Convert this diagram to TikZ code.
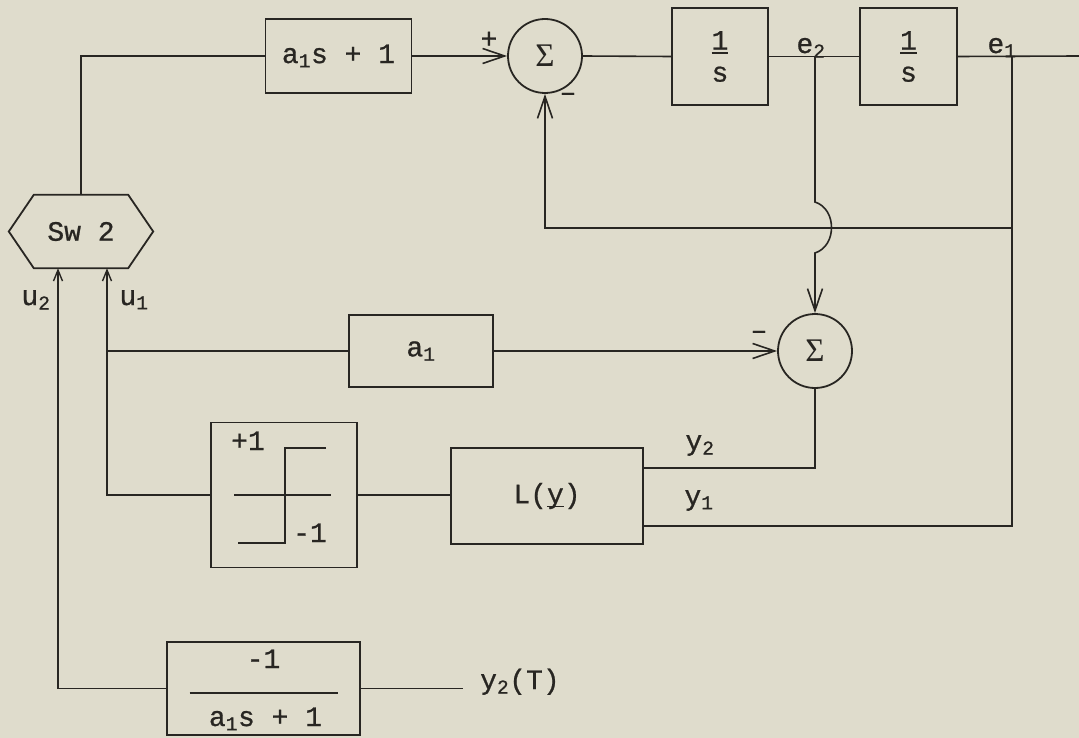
\documentclass[tikz,border=0pt]{standalone}
\usepackage{fontspec}
\setmainfont{Liberation Mono}[UprightFeatures={FakeBold=0.8}]
\newfontfamily\sigfont{Liberation Serif}
\usetikzlibrary{arrows.meta,calc}
\definecolor{bg}{RGB}{223,220,204}
\definecolor{ink}{RGB}{40,38,34}
\newcommand\ubar[1]{\setbox0\hbox{#1}\rlap{\raisebox{-4pt}{\rule{\wd0}{1.6pt}}}\box0}
\begin{document}
\begin{tikzpicture}[x=1pt,y=-1pt,
  every node/.style={font=\fontsize{28}{32}\selectfont, text=ink},
  blk/.style={draw=ink, line width=1.8pt, inner sep=0pt},
  sumc/.style={draw=ink, line width=1.8pt, circle, minimum size=74pt, inner sep=0pt, font=\sigfont\fontsize{33}{36}\selectfont},
  outl/.style={draw=ink, line width=1.8pt},
  wire/.style={draw=ink, line width=1.6pt},
  arr/.style={wire, -{Straight Barb[length=22pt,width=15pt,line width=1.6pt]}},
  sarr/.style={wire, -{Straight Barb[length=11pt,width=9pt,line width=1.4pt]}},
  lbl/.style={inner sep=0pt},
  sgn/.style={inner sep=0pt, font=\fontsize{28}{32}\selectfont}
]
\fill[bg] (0,0) rectangle (1079,738);
\useasboundingbox (0,0) rectangle (1079,738);

% switch
\node[minimum width=94pt, minimum height=73pt, inner sep=0pt] (sw) at (81,231.5) {Sw 2};
\draw[outl] (sw.north west) -- ($(sw.west)+(-25,0)$) -- (sw.south west) -- (sw.south east) -- ($(sw.east)+(25,0)$) -- (sw.north east) -- cycle;

% top row
\node[blk, minimum width=146pt, minimum height=74pt] (b1) at (338.5,56) {a\textsubscript{1}s + 1};
\node[sumc] (s1) at (545,56) {Σ};
\node[blk, minimum width=96pt, minimum height=97pt, align=center] (i1) at (720,56.5) {\ubar{1}\\s};
\node[blk, minimum width=97pt, minimum height=97pt, align=center] (i2) at (908.5,56.5) {\ubar{1}\\s};
\coordinate (e2j) at (815,56);
\coordinate (e1j) at (1012,56);
\coordinate (out) at (1079,56);
\coordinate (fbr) at (1012,228);
\coordinate (hop1) at (815,202);
\coordinate (hop2) at (815,253);

% middle
\node[blk, minimum width=144pt, minimum height=72pt] (a1) at (421,351) {a\textsubscript{1}};
\node[sumc] (s2) at (815,351) {Σ};

\node[blk, minimum width=146pt, minimum height=145pt] (rl) at (284,495) {};
\node[blk, minimum width=192pt, minimum height=96pt] (L) at (547,496) {L(\ubar{y})};
\coordinate (y2p) at ($(L.north east)+(0,21)$);
\coordinate (y1p) at ($(L.south east)+(0,-19)$);

% bottom
\node[blk, minimum width=193pt, minimum height=93pt] (fb) at (263.5,688.5) {};
\coordinate (yT) at (463,688.5);

\coordinate (u1t) at ($(sw.south)+(26,0)$);
\coordinate (u2t) at ($(sw.south)+(-23,0)$);

% relay internals
\draw[wire] ($(rl.center)+(-50,0)$) -- ($(rl.center)+(47,0)$);
\draw[wire] ($(rl.center)+(42,-47)$) -- ($(rl.center)+(1,-47)$) -- ($(rl.center)+(1,48)$) -- ($(rl.center)+(-46,48)$);
\node[lbl, anchor=base] (p1) at ($(rl.center)+(-36,-45)$) {+1};
\node[lbl, anchor=base] (m1) at ($(rl.center)+(26,47)$) {-1};

% bottom box fraction
\draw[wire] ($(fb.center)+(-74,4.5)$) -- ($(fb.center)+(74,4.5)$);
\node[lbl, anchor=base] (fbn) at ($(fb.center)+(0,-20.5)$) {-1};
\node[lbl, anchor=base] (fbd) at ($(fb.center)+(2,37.5)$) {a\textsubscript{1}s + 1};

% connectors
\draw[wire] (sw.north) |- (b1.west);
\draw[arr] (b1.east) -- (s1.west);
\draw[wire] (s1.east) -- (i1.west);
\draw[wire] (i1.east) -- (i2.west);
\draw[wire] (i2.east) -- (out);
\draw[wire] (e1j) |- (y1p);
\draw[arr] (fbr) -| (s1.south);
\draw[arr] (e2j) -- (hop1) .. controls (837,209) and (837,246) .. (hop2) -- (s2.north);
\draw[arr] (a1.east) -- (s2.west);
\draw[wire] (a1.west) -- (a1.west -| u1t);
\draw[sarr] (rl.west) -| (u1t);
\draw[wire] (rl.east) -- (rl.east -| L.west);
\draw[wire] (y2p) -| (s2.south);
\draw[sarr] (fb.west) -| (u2t);
\draw[wire] (fb.east) -- (yT);

% labels
\node[sgn, anchor=base] (lp) at (489,48) {+};
\node[sgn, anchor=base] (lm1) at (568,101) {–};
\node[sgn, anchor=base] (lm2) at (759,339) {–};
\node[lbl, anchor=base] (le2) at (811,53) {e\textsubscript{2}};
\node[lbl, anchor=base] (le1) at (1002,53) {e\textsubscript{1}};
\node[lbl, anchor=base] (lu2) at (36,305) {u\textsubscript{2}};
\node[lbl, anchor=base] (lu1) at (134,305) {u\textsubscript{1}};
\node[lbl, anchor=base] (ly2) at (700,450) {y\textsubscript{2}};
\node[lbl, anchor=base] (ly1) at (699,505) {y\textsubscript{1}};
\node[lbl, anchor=base west] (lyT) at (480,689) {y\textsubscript{2}(T)};
\end{tikzpicture}
\end{document}
